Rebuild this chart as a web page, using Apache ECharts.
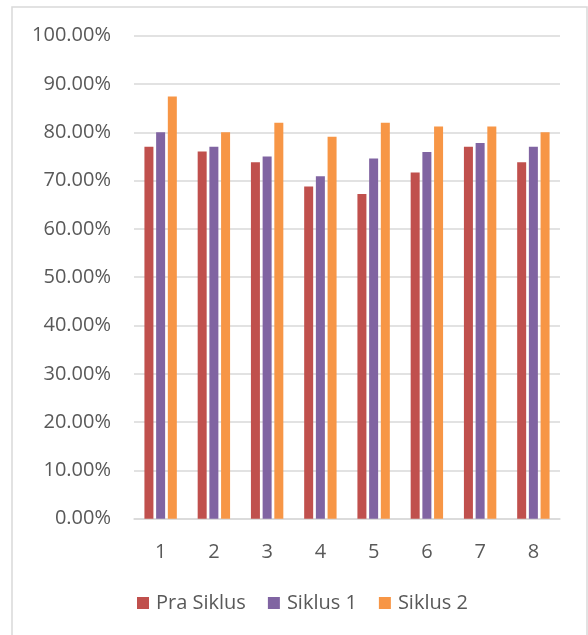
<!DOCTYPE html>
<html><head><meta charset="utf-8">
<script src="https://cdn.jsdelivr.net/npm/echarts@6/dist/echarts.min.js"></script>
<style>html,body{margin:0;padding:0;background:#fff}#c{width:588px;height:635px}</style>
</head><body><div id="c"></div>
<script>
var categories = ['1','2','3','4','5','6','7','8'];
var praSiklus = [77.0, 76.0, 73.8, 68.8, 67.2, 71.7, 77.0, 73.8];
var siklus1 = [80.0, 77.0, 75.0, 70.9, 74.6, 75.9, 77.8, 77.0];
var siklus2 = [87.4, 80.0, 82.0, 79.1, 82.0, 81.2, 81.2, 80.0];
var seriesNames = ['Pra Siklus', 'Siklus 1', 'Siklus 2'];
var colors = ['#C0504D', '#8064A2', '#F79646'];
var FONT = 'Open Sans';
var chart = echarts.init(document.getElementById('c'));
function bar(name, data, color) {
  return {name: name, type: 'bar', data: data, barWidth: 9, barGap: '30%',
    itemStyle: {color: color}, emphasis: {disabled: true}};
}
chart.setOption({
  animation: false,
  textStyle: {fontFamily: FONT},
  graphic: [{type: 'rect', shape: {x: 12, y: 7, width: 575, height: 660},
    style: {fill: null, stroke: '#D9D9D9', lineWidth: 1.5}, silent: true}],
  grid: {left: 134, right: 28, top: 35.7, bottom: 116.3, containLabel: false},
  legend: {top: 593, left: 137, itemWidth: 12, itemHeight: 12, itemGap: 22,
    icon: 'rect', data: seriesNames, padding: 0,
    textStyle: {color: '#595959', fontSize: 20, lineHeight: 20, fontFamily: FONT, padding: [0, 0, 0, 2]}},
  xAxis: {type: 'category', data: categories,
    axisLine: {lineStyle: {color: '#D9D9D9', width: 1.5}},
    axisTick: {show: false},
    axisLabel: {color: '#595959', fontSize: 20, lineHeight: 20, margin: 24}},
  yAxis: {type: 'value', min: 0, max: 100, interval: 10,
    axisLine: {show: false}, axisTick: {show: false},
    splitLine: {lineStyle: {color: '#D9D9D9', width: 1.5}},
    axisLabel: {color: '#595959', fontSize: 20, margin: 23,
      formatter: function (v) { return v.toFixed(2) + '%'; }}},
  series: [bar(seriesNames[0], praSiklus, colors[0]),
           bar(seriesNames[1], siklus1, colors[1]),
           bar(seriesNames[2], siklus2, colors[2])]
});
</script></body></html>
